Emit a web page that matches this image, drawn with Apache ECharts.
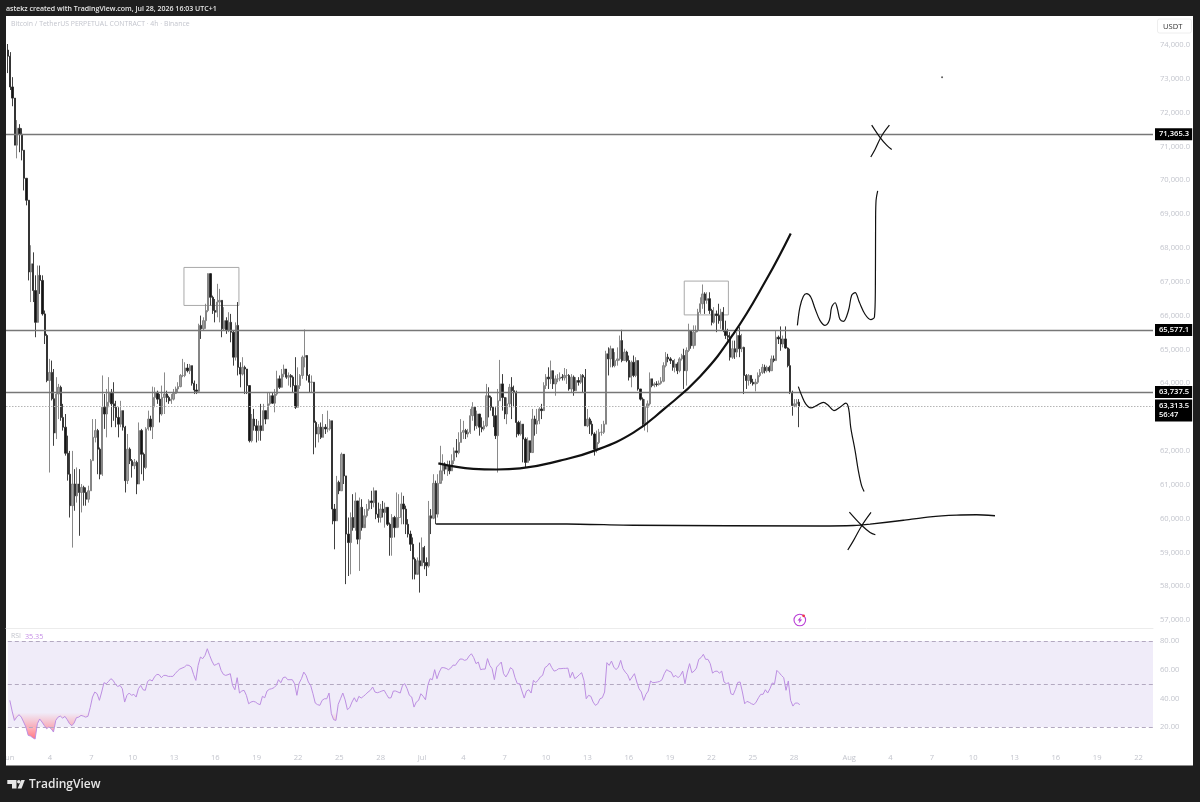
<!DOCTYPE html>
<html><head><meta charset="utf-8">
<style>html,body{margin:0;padding:0;background:#1e1e1e;overflow:hidden}#c{width:1200px;height:802px;filter:blur(0.4px)}</style>
<script src="https://cdn.jsdelivr.net/npm/echarts@6/dist/echarts.min.js"></script>
</head><body><div id="c"></div>
<script>
const opens=[73850,73670,72760,72430,71040,71540,71360,70890,70060,69410,
67290,67530,66740,65800,67190,67040,66050,65410,64080,64320,
63540,62530,63680,63880,62990,62700,61930,61310,60380,61020,
60670,61020,60770,60920,60770,60570,60820,61710,62400,62600,
62050,61310,63290,63090,63440,63730,63390,63290,62990,62790,
63190,62700,61120,62050,61710,61560,61660,61020,62600,61900,
61510,62650,62940,62710,63580,63730,63530,63090,63580,63680,
63580,63480,63530,63700,63830,63900,64230,64230,64450,64370,
64520,64000,63800,63760,65710,65610,65850,66150,67240,66540,
66150,66100,66400,66450,65610,65850,65560,65800,65510,64770,
65710,64470,64270,64470,64420,63930,62300,62940,62740,62600,
62740,62600,63190,62940,63390,63630,63410,63680,64130,63880,
64270,64420,64180,64230,64180,63930,63290,63930,64230,64770,
64820,64230,64030,64030,62840,62500,62700,62400,62700,62650,
62650,62890,60280,59930,61070,60820,61900,61260,59540,59290,
60030,59730,60520,59390,60330,59730,60080,60280,60520,60470,
60820,60130,60030,60280,60180,60330,59830,59440,60030,59730,
60030,60030,60430,60280,59830,59540,59240,58800,58350,58750,
58600,59140,58700,58600,60080,60010,61040,60130,61040,61410,
61610,61460,61560,61410,61710,62000,61950,62250,62550,62600,
62500,62550,63040,63290,62740,63090,62700,62650,62740,63630,
63580,63290,63040,62450,63480,63980,63580,63090,63390,63880,
63780,63730,62840,62500,62790,62350,61660,62300,61950,62940,
62790,62890,63240,63190,63930,64180,64130,64370,63980,64130,
64130,64180,64160,64230,64230,63830,64180,63780,64080,64030,
64230,64180,62740,62940,62790,62500,62050,62250,62550,62550,
62790,64870,64720,65020,64520,64670,64720,65260,64670,64920,
64670,64180,64620,64230,64670,63830,63530,62790,63290,63390,
64130,63930,63980,63960,64000,64060,64520,64770,64720,64670,
64470,64570,64370,64720,64820,64370,64970,65560,65110,65510,
65560,66100,66350,66640,66450,66500,66150,65800,66050,66000,
65850,66100,65560,65410,65360,64770,65020,64920,65410,65020,
65060,64230,64080,64230,64030,63980,64030,64230,64320,64470,
64370,64470,64370,64720,64670,65360,65310,65160,65310,65040,
64520,63730,63340,63390,63440];
const closes=[73670,72760,72430,71040,71540,71360,70890,70060,69410,
67290,67530,66740,65800,67190,67040,66050,65410,64080,64320,
63540,62530,63680,63880,62990,62700,61930,61310,60380,61020,
60670,61020,60770,60920,60770,60570,60820,61710,62400,62600,
62050,61310,63290,63090,63440,63730,63390,63290,62990,62790,
63190,62700,61120,62050,61710,61560,61660,61020,62600,61900,
61510,62650,62940,62710,63580,63730,63530,63090,63580,63680,
63580,63480,63530,63700,63830,63900,64230,64230,64450,64370,
64520,64000,63800,63760,65710,65610,65850,66150,67240,66540,
66150,66100,66400,66450,65610,65850,65560,65800,65510,64770,
65710,64470,64270,64470,64420,63930,62300,62940,62740,62600,
62740,62600,63190,62940,63390,63630,63410,63680,64130,63880,
64270,64420,64180,64230,64180,63930,63290,63930,64230,64770,
64820,64230,64030,64030,62840,62500,62700,62400,62700,62650,
62650,62890,60280,59930,61070,60820,61900,61260,59540,59290,
60030,59730,60520,59390,60330,59730,60080,60280,60520,60470,
60820,60130,60030,60280,60180,60330,59830,59440,60030,59730,
60030,60030,60430,60280,59830,59540,59240,58800,58350,58750,
58600,59140,58700,58600,60080,60010,61040,60130,61040,61410,
61610,61460,61560,61410,61710,62000,61950,62250,62550,62600,
62500,62550,63040,63290,62740,63090,62700,62650,62740,63630,
63580,63290,63040,62450,63480,63980,63580,63090,63390,63880,
63780,63730,62840,62500,62790,62350,61660,62300,61950,62940,
62790,62890,63240,63190,63930,64180,64130,64370,63980,64130,
64130,64180,64160,64230,64230,63830,64180,63780,64080,64030,
64230,64180,62740,62940,62790,62500,62050,62250,62550,62550,
62790,64870,64720,65020,64520,64670,64720,65260,64670,64920,
64670,64180,64620,64230,64670,63830,63530,62790,63290,63390,
64130,63930,63980,63960,64000,64060,64520,64770,64720,64670,
64470,64570,64370,64720,64820,64370,64970,65560,65110,65510,
65560,66100,66350,66640,66450,66500,66150,65800,66050,66000,
65850,66100,65560,65410,65360,64770,65020,64920,65410,65020,
65060,64230,64080,64230,64030,63980,64030,64230,64320,64470,
64370,64470,64370,64720,64670,65360,65310,65160,65310,65040,
64520,63730,63340,63390,63440,63310];
const highs=[74030,73790,73050,72430,71780,71660,71540,70890,70060,69410,
68080,67870,67190,67480,67480,67190,66150,65460,64720,64670,
64420,64180,63980,63930,63390,63090,62450,62000,62000,61460,
61510,61460,61020,60970,60920,60970,61760,62940,62940,62650,
62100,64230,63680,63830,64180,63830,64030,63480,63290,63480,
63190,62740,62500,62100,61760,61760,61710,62840,62650,61950,
62700,63190,63040,63900,63880,63780,63680,63930,64320,63780,
63630,63680,63830,63900,64030,64270,64720,64620,64570,64570,
64520,64080,63980,65760,66000,65950,66350,67250,67250,66590,
66490,66940,66790,66450,66250,65950,66100,66050,65560,65800,
66400,64620,64770,64520,64420,63930,63090,63240,62940,62890,
63390,63390,63190,63730,63730,63730,63830,64370,64230,64420,
64550,64320,64320,64270,64230,64770,64470,64270,64820,65590,
64770,64270,64230,64030,62890,62790,62840,63090,62790,63190,
62940,62890,60430,61260,61120,61950,61860,61260,60030,60180,
60720,60770,60520,60620,60570,60280,60430,60570,60820,60920,
60820,60470,60430,60520,60470,60330,59880,60130,60080,60770,
60720,60770,60670,60380,59980,59640,59440,58850,58850,59290,
59440,59190,58850,60520,60280,61310,61120,61310,62150,61900,
61660,61710,61710,61900,62100,62350,62550,62940,62890,62650,
62650,63240,63440,63290,63190,63090,62990,62890,63980,63880,
63630,63290,63290,63830,64690,64270,63580,63580,63980,64180,
63930,63780,62890,62890,62790,62400,62400,62300,63240,63040,
63240,63290,63390,64030,64270,64470,64670,64320,64230,64270,
64320,64270,64450,64420,64270,64270,64230,64180,64180,64270,
64270,64420,63240,62990,62890,62550,62600,62650,62790,62890,
64960,65060,65110,65020,64920,65060,65410,65580,65020,64960,
64820,64670,64820,64770,64670,63830,63580,63530,63490,64320,
64130,64030,64060,64080,64180,64620,64920,64870,64770,64670,
64720,64620,64770,64870,65020,65060,65760,65510,65710,65710,
66200,66540,66920,66690,66690,66690,66200,66250,66150,66350,
66200,66250,65850,65610,65510,65260,65260,65510,65660,65460,
65080,64270,64270,64230,64130,64130,64320,64420,64570,64550,
64520,64520,64820,64820,65560,65410,65680,65410,65680,65060,
65020,63780,63530,63530,63530];
const lows=[73170,72670,72190,71040,70650,70830,70590,69700,69260,67040,
66400,66400,65360,66640,66640,66000,65160,64030,61360,63490,
62150,62350,62940,62890,62600,61860,61120,60030,59140,60230,
60470,59490,60180,60380,60380,60470,60820,61710,62250,61310,
61160,61260,62650,62400,63290,62700,62890,62700,62400,62700,
62600,60770,61020,61610,61210,61460,60720,61020,61310,61120,
61460,62600,62600,62350,63290,63390,62840,63040,63090,63440,
63390,63390,63490,63680,63730,63880,64180,64180,64320,64270,
63930,63680,63680,63730,65310,65560,65610,66100,66300,66050,
65800,65950,65800,65360,65560,65460,65510,65210,64520,64670,
64230,63880,64230,63680,63680,62250,62250,62600,62250,62300,
62300,62650,62790,62940,63340,63390,63140,63630,63830,64030,
64180,64130,63930,63880,63730,63240,63490,63830,64130,64470,
64080,63730,63730,61900,62100,62250,62350,62400,62500,62550,
62600,59830,59090,59930,60720,60820,61020,58060,58300,58350,
59640,59640,59240,58450,59640,59830,60030,60230,60280,60330,
59980,59880,59880,60030,59730,59780,58900,58900,59440,59730,
59730,59830,59830,59540,59440,59040,58200,58200,58400,57810,
58600,58500,58300,58550,59540,59980,59830,60030,61070,61120,
61310,61260,61310,61410,61610,61810,61900,62250,62350,62350,
62400,62500,62890,62600,62650,62450,62550,62600,62700,62990,
63190,62700,62350,61360,63540,63190,62940,62790,63290,62940,
63290,62400,62450,62450,61660,61510,61710,61710,61950,62450,
62500,62790,62940,63190,63830,63830,63980,63830,63630,64030,
64060,64080,64080,63980,63780,63730,63630,63780,63930,63980,
63730,62740,62700,62500,62450,61860,61950,62200,62450,62500,
62790,64230,64470,64470,64470,64520,64670,64620,64670,64620,
64080,63880,64180,64180,63780,63490,62700,62600,62550,63340,
63880,63880,63900,63930,63960,64030,64470,64620,64570,64370,
64320,64270,64320,64670,63830,63930,64920,65020,65020,65110,
65510,66050,66200,66050,66350,66050,65710,65760,65510,65760,
65610,65510,65310,65260,64670,64720,64720,64770,64770,64920,
63680,63830,63930,63980,63930,63760,63980,64180,64270,64290,
64320,64320,64370,64620,64670,65160,64960,65060,65020,64470,
63680,63040,63290,63290,62700];
const rsiValues=[38.6,31.1,24.6,26.9,28.6,26.9,23.5,20.0,14.2,13.7,12.5,11.6,22.3,25.6,23.5,21.1,18.8,20.0,18.8,16.5,
24.6,26.9,27.6,26.2,27.4,25.1,22.3,20.9,22.8,26.5,26.9,28.1,27.6,26.9,27.4,33.5,40.9,44.4,43.2,38.6,
44.4,50.9,50.2,51.8,53.7,52.5,49.7,48.3,49.0,46.7,37.4,42.1,43.7,42.1,42.8,40.9,46.7,49.0,46.0,45.6,
51.8,53.0,52.1,54.9,56.7,56.5,54.4,56.0,56.0,55.3,55.3,55.3,57.2,59.0,60.4,61.1,61.8,63.2,63.0,61.8,
56.7,52.5,63.0,68.8,67.7,70.0,74.6,70.0,66.0,63.0,63.7,64.6,59.5,56.7,56.0,56.5,57.2,49.0,46.0,54.4,
43.7,45.1,45.6,42.1,36.2,37.4,37.9,37.4,36.2,35.6,41.4,40.4,45.1,46.3,46.7,47.4,49.0,53.0,50.9,54.4,
54.9,53.0,53.0,53.0,50.2,42.1,50.7,53.7,58.3,56.0,51.4,49.0,43.2,36.7,35.6,35.1,38.6,39.7,39.7,43.7,
29.3,25.1,24.6,35.8,39.7,43.7,39.0,32.1,33.5,37.4,40.4,37.4,41.4,40.2,41.4,42.8,44.4,45.6,47.9,44.4,
43.9,44.4,45.1,45.6,42.8,40.2,40.4,45.1,45.1,44.4,43.7,49.0,50.2,46.7,42.1,40.9,33.9,37.4,38.6,43.2,
41.4,39.0,49.0,53.7,53.0,60.0,53.7,58.3,61.4,61.4,60.9,60.0,61.1,63.2,63.0,65.3,67.4,67.4,66.5,67.0,
69.5,71.1,68.4,64.2,65.3,60.0,60.4,60.4,67.7,63.0,60.7,53.0,61.8,63.5,65.3,57.2,54.9,57.6,61.4,60.2,
54.4,50.2,50.2,45.1,40.2,45.1,46.0,43.7,52.5,51.1,52.5,54.9,56.0,61.4,62.5,64.6,61.4,59.0,59.5,60.7,
60.7,60.9,60.9,61.1,54.4,58.3,53.7,54.9,56.5,57.9,52.5,39.7,42.1,41.4,37.4,35.1,36.2,39.7,40.4,44.4,
64.9,63.0,66.0,61.8,60.0,61.8,66.5,60.7,58.3,56.5,52.5,54.9,57.2,51.4,46.7,44.4,38.6,42.8,45.1,52.1,
50.9,51.1,51.4,51.8,53.0,57.2,60.0,59.0,58.3,54.9,56.0,54.4,56.0,59.0,50.2,58.3,64.2,57.9,59.0,61.1,
67.2,68.4,70.7,67.2,67.2,64.2,57.6,58.8,59.0,57.6,59.0,51.4,50.2,50.9,43.2,42.5,46.3,51.1,51.4,44.4,
36.2,37.9,37.2,36.2,35.6,37.4,40.4,42.8,42.8,46.0,43.7,46.7,50.7,50.2,59.5,57.9,56.0,54.4,45.6,52.1,
38.6,34.6,36.7,36.7,35.6];

const priceTicks=[57000,58000,59000,60000,61000,62000,63000,64000,65000,66000,67000,68000,69000,70000,71000,72000,73000,74000];
const rsiTicks=[20,40,60,80];
const rsiBands=[80,50,20];
const candlesPerDay=6;
const dateTickDays=[0,3,6,9,12,15,18,21,24,27,30,33,36,39,42,45,48,51,54,57,61,64,67,70,73,76,79,82];
const dateTickLabels=['Jun','4','7','10','13','16','19','22','25','28','Jul','4','7','10','13','16','19','22','25','28','Aug','4','7','10','13','16','19','22'];
const levels=[71365.3,65577.1,63737.5];
const lastPrice=63313.5, countdown='56:47', lastRsi=35.35;
const zoneA=[[76.5,67424],[100.4,66300]];
const zoneB=[[294,67020],[313.2,66020]];
const arcPath=[[187.1,61630],[202.3,61470],[212.5,61450],[222.6,61480],[240,61710],[256,62030],[271.9,62540],[284.9,63220],[300.9,64200],[315.4,65460],[329.9,67090],[340.3,68430]];
const upPath=[[343.2,65710],[344.3,66250],[345.8,66570],[347.2,66650],[349,66550],[350.9,66200],[353,65860],[355.2,65710],[357.1,65860],[358.1,66250],[359.6,66380],[360.6,66200],[361.7,65890],[363.2,65830],[365.4,66150],[366.8,66600],[368.3,66680],[370.1,66400],[372.6,66040],[375.1,65880],[376.7,65960],[377.1,66840],[377.2,68820],[377.4,69410],[378.1,69690]];
const downPath=[[343.6,63900],[345.1,63630],[346.9,63380],[349,63270],[351.6,63340],[354.5,63435],[356.7,63340],[359.1,63190],[361.7,63290],[364.3,63410],[365.5,63240],[366.4,62690],[368.3,62000],[369.7,61410],[371.1,60970],[372.2,60800]];
const flatPath=[[186.1,59840],[242.9,59840],[271.9,59800],[353,59780],[367.5,59793],[374.8,59833],[389.3,59950],[400.9,60050],[412.4,60100],[421.1,60110],[429.1,60080]];
const crossTopA=[[375.5,71630],[379.1,71270],[382,71040],[384.2,70910]];
const crossTopB=[[383.2,71630],[379.8,71310],[376.95,70910],[375.1,70690]];
const crossLowA=[[365.8,60190],[371.1,59800],[374.8,59590],[377.1,59520]];
const crossLowB=[[375.2,60180],[371.1,59780],[367.5,59340],[365.1,59070]];
const strayDot=[[406.1,73050]];

const FONT='"Open Sans",sans-serif';
const AXIS='#c3c5cd';
const idx=opens.map((_,i)=>i);
const candleRows=idx.map(i=>[i,opens[i],closes[i],lows[i],highs[i]]);
const rsiRows=idx.map(i=>[i,rsiValues[i]]);
const rsiLowRows=idx.map(i=>[i,Math.min(rsiValues[i],30)]);
const xTicks=dateTickDays.map(d=>d*candlesPerDay-0.5);
const fmtPrice=v=>v.toLocaleString('en-US',{minimumFractionDigits:1,maximumFractionDigits:1});
const xMin=-0.87,xMax=497.8;

function drawn(data,w,smooth){return {type:'line',xAxisIndex:0,yAxisIndex:0,data,showSymbol:false,symbol:'none',smooth:smooth===undefined?0.35:smooth,lineStyle:{color:'#111',width:w},z:6,silent:true,animation:false};}
function lvl(v){return {yAxis:v,lineStyle:{color:'#777',width:1.3,type:'solid'},label:{show:true,position:'end',distance:2,formatter:fmtPrice(v),color:'#fff',backgroundColor:'#000',fontFamily:FONT,fontSize:7.6,padding:[2,3,2,4],fontWeight:600}};}

const chart=echarts.init(document.getElementById('c'),null,{renderer:'canvas',width:1200,height:802});
chart.setOption({
 animation:false,
 backgroundColor:'#1e1e1e',
 grid:[{left:6,top:16,width:1147,height:612},{left:6,top:628,width:1147,height:120}],
 xAxis:[
  {type:'value',gridIndex:0,min:xMin,max:xMax,axisLine:{show:true,onZero:false,lineStyle:{color:'#ececec'}},axisTick:{show:false},axisLabel:{show:false},splitLine:{show:false}},
  {type:'value',gridIndex:1,min:xMin,max:xMax,axisLine:{show:false},axisTick:{show:false},splitLine:{show:false},
   axisLabel:{customValues:xTicks,color:AXIS,fontFamily:FONT,fontSize:7.6,margin:6,hideOverlap:false,showMinLabel:true,
    formatter:v=>dateTickLabels[xTicks.indexOf(v)]||''}}
 ],
 yAxis:[
  {type:'value',gridIndex:0,position:'right',min:56763,max:74858,axisLine:{show:false},axisTick:{show:false},splitLine:{show:false},
   axisLabel:{customValues:priceTicks,color:AXIS,fontFamily:FONT,fontSize:7.6,margin:7,formatter:fmtPrice}},
  {type:'value',gridIndex:1,position:'right',min:5.35,max:89.07,axisLine:{show:false},axisTick:{show:false},splitLine:{show:false},
   axisLabel:{customValues:rsiTicks,color:AXIS,fontFamily:FONT,fontSize:7.6,margin:7,formatter:v=>v.toFixed(2)}}
 ],
 series:[
  {type:'line',name:'levels',xAxisIndex:0,yAxisIndex:0,data:[],z:3,silent:true,
   markLine:{silent:true,symbol:'none',animation:false,data:[
     lvl(levels[0]),lvl(levels[1]),lvl(levels[2]),
     {yAxis:lastPrice,lineStyle:{color:'#b5b5b5',width:1,type:[1.5,1.5]},label:{show:true,position:'end',distance:2,offset:[0,4],formatter:fmtPrice(lastPrice)+'\n'+countdown,align:'left',lineHeight:9,color:'#fff',backgroundColor:'#000',fontFamily:FONT,fontSize:7.6,padding:[2,3,2,4],fontWeight:600}}
   ]},
   markArea:{silent:true,animation:false,itemStyle:{color:'rgba(0,0,0,0)',borderColor:'#a9a9a9',borderWidth:1},data:[
     [{coord:zoneA[0]},{coord:zoneA[1]}],[{coord:zoneB[0]},{coord:zoneB[1]}]
   ]}},
  {type:'candlestick',name:'BTCUSDT.P',xAxisIndex:0,yAxisIndex:0,data:candleRows,encode:{x:0,y:[1,2,3,4]},barWidth:1.8,z:4,silent:true,large:false,
   itemStyle:{color:'#a0a0a0',color0:'#141414',borderColor:'#7d7d7d',borderColor0:'#2a2a2a',borderWidth:0.9}},
  drawn(arcPath,2.2,0.45),drawn(upPath,1.2),drawn(downPath,1.2),drawn(flatPath,1.4,0.2),
  drawn(crossTopA,1.2),drawn(crossTopB,1.2),drawn(crossLowA,1.2),drawn(crossLowB,1.2),
  {type:'scatter',xAxisIndex:0,yAxisIndex:0,data:strayDot,symbolSize:2,itemStyle:{color:'#333'},silent:true,z:6},
  {type:'line',name:'RSI',xAxisIndex:1,yAxisIndex:1,data:rsiRows,showSymbol:false,symbol:'none',lineStyle:{color:'#bd8fe2',width:1},z:5,silent:true,
   markArea:{silent:true,animation:false,itemStyle:{color:'#f0ecf9'},data:[[{yAxis:rsiBands[2]},{yAxis:rsiBands[0]}]]},
   markLine:{silent:true,symbol:'none',animation:false,label:{show:false},lineStyle:{color:'#b3a9c0',type:[4,3],width:1},data:rsiBands.map(v=>({yAxis:v}))}},
  {type:'line',name:'RSI oversold',xAxisIndex:1,yAxisIndex:1,data:rsiLowRows,showSymbol:false,symbol:'none',lineStyle:{width:0,opacity:0},z:4,silent:true,
   areaStyle:{origin:30,opacity:1,color:new echarts.graphic.LinearGradient(0,0,0,1,[{offset:0,color:'rgba(255,120,130,0)'},{offset:1,color:'rgba(255,110,125,0.95)'}])}}
 ],
 graphic:[
  {type:'rect',z:-10,silent:true,shape:{x:6,y:16,width:1187,height:750},style:{fill:'#fff'}},
  {type:'rect',z:-9,silent:true,shape:{x:6,y:765,width:1187,height:1},style:{fill:'#8c8c8c'}},
  {type:'rect',z:200,silent:true,shape:{x:0,y:740,width:6,height:30},style:{fill:'#1e1e1e'}},
  {type:'text',z:100,silent:true,style:{x:6,y:9,text:'astekz created with TradingView.com, Jul 28, 2026 16:03 UTC+1',fill:'#e6e6e6',font:'600 7px '+FONT,verticalAlign:'middle'}},
  {type:'text',z:100,silent:true,style:{x:11,y:24.5,text:'Bitcoin / TetherUS PERPETUAL CONTRACT · 4h · Binance',fill:'#c3c5cd',font:'6.9px '+FONT,verticalAlign:'middle'}},
  {type:'text',z:100,silent:true,style:{x:11,y:636.5,text:'RSI',fill:'#c3c5cd',font:'6.9px '+FONT,verticalAlign:'middle'}},
  {type:'text',z:100,silent:true,style:{x:25,y:636.5,text:lastRsi.toFixed(2),fill:'#c58fe6',font:'7.2px '+FONT,verticalAlign:'middle'}},
  {type:'rect',z:100,silent:true,shape:{x:1157.5,y:19,width:34,height:14,r:2},style:{fill:'#fff',stroke:'#eeeeee',lineWidth:1}},
  {type:'text',z:101,silent:true,style:{x:1163,y:26.5,text:'USDT',fill:'#333',font:'7.6px '+FONT,verticalAlign:'middle'}},
  {type:'circle',z:100,silent:true,shape:{cx:799.8,cy:620,r:5.8},style:{fill:'#fff',stroke:'#b93fd6',lineWidth:1.1}},
  {type:'polygon',z:101,silent:true,shape:{points:[[801,616.5],[797.5,620.5],[799.5,620.5],[798.6,623.6],[802.2,619.5],[800.2,619.5]]},style:{fill:'#b93fd6'}},
  {type:'circle',z:102,silent:true,shape:{cx:803.6,cy:615.8,r:1.4},style:{fill:'#f23645'}},
  {type:'polygon',z:100,silent:true,shape:{points:[[7.3,780],[16.5,780],[16.5,788.5],[12,788.5],[12,784],[7.3,784]]},style:{fill:'#e6e6e6'}},
  {type:'circle',z:100,silent:true,shape:{cx:18.8,cy:781.8,r:1.8},style:{fill:'#e6e6e6'}},
  {type:'polygon',z:100,silent:true,shape:{points:[[17.6,788.5],[21.5,788.5],[24.8,780],[21.3,780]]},style:{fill:'#e6e6e6'}},
  {type:'text',z:100,silent:true,style:{x:29,y:784.5,text:'TradingView',fill:'#e6e6e6',font:'600 12px '+FONT,verticalAlign:'middle'}}
 ]
});
</script></body></html>
